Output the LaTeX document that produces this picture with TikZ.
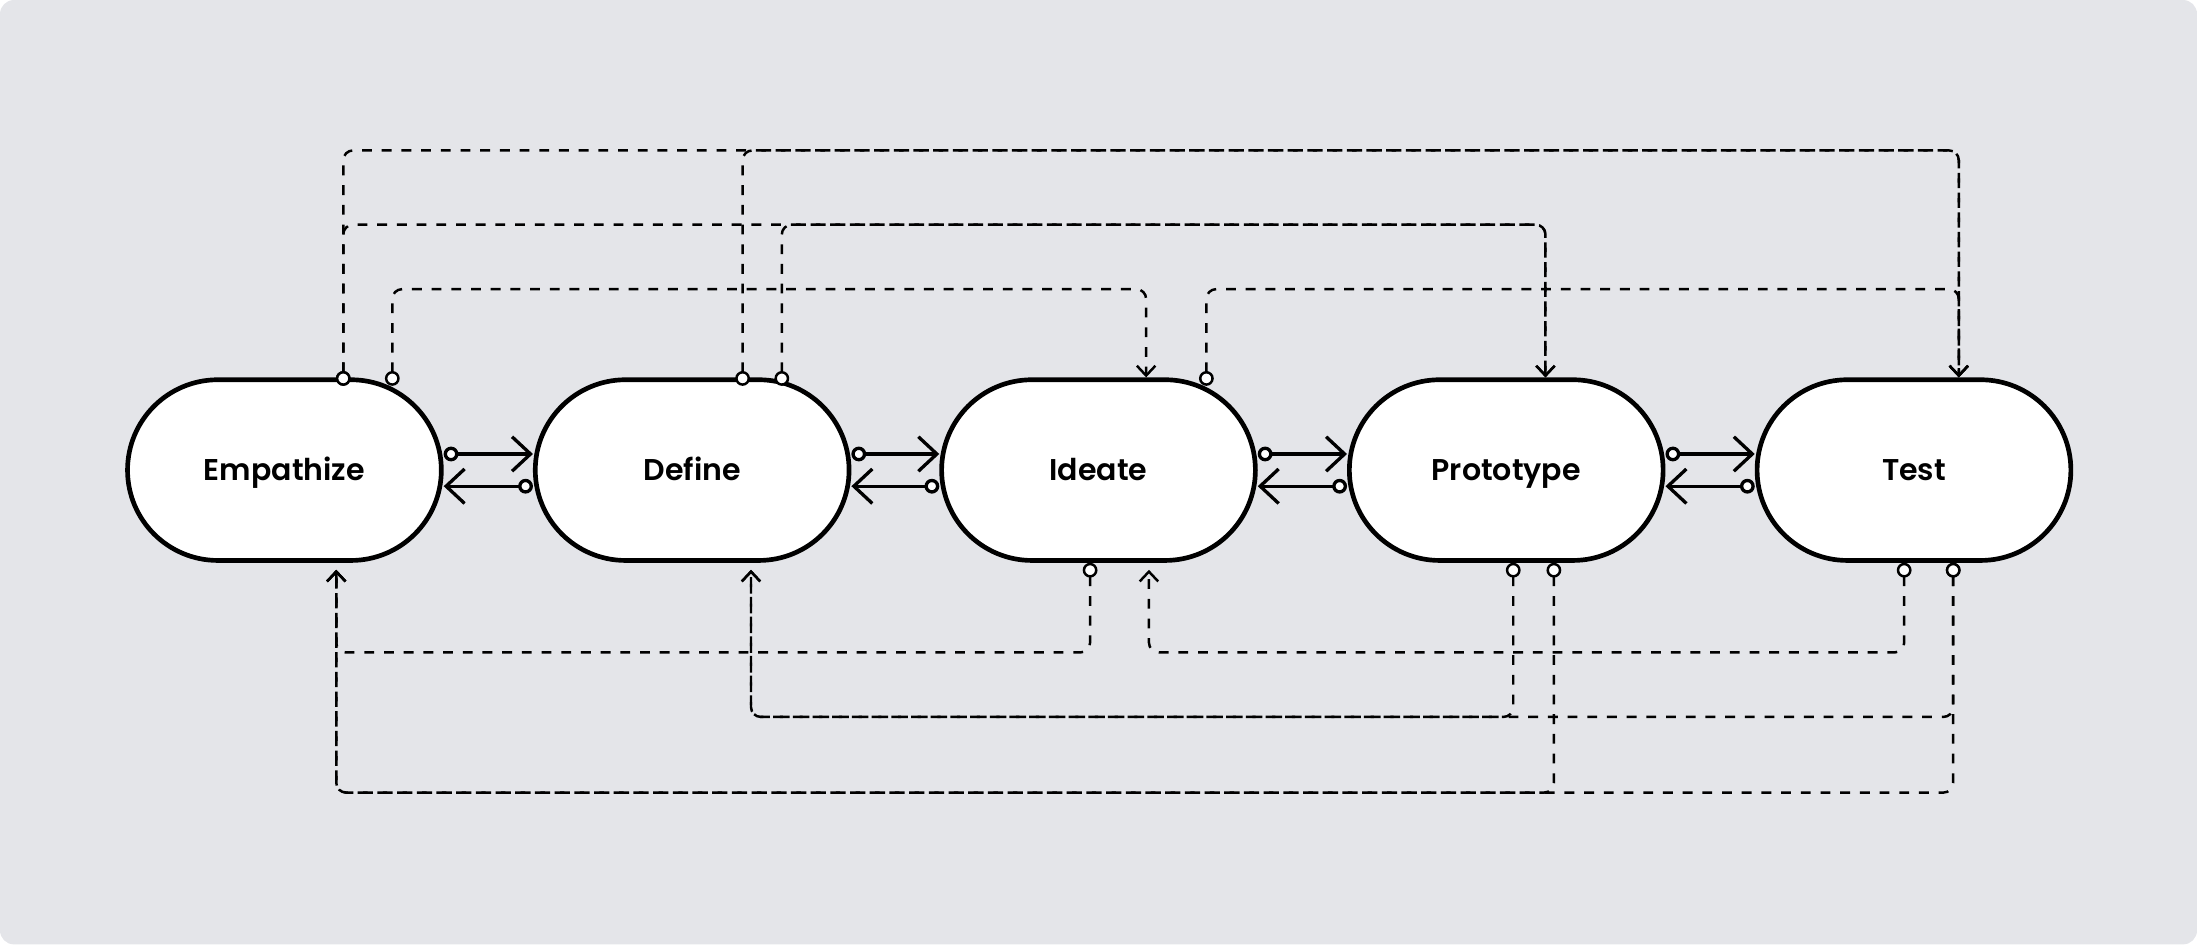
\documentclass[tikz,border=0pt]{standalone}
\usepackage{fontspec}
\usepackage{tikz}
\usetikzlibrary{arrows.meta}
\usetikzlibrary{positioning}
\newfontfamily\stagefont{Poppins SemiBold}
\definecolor{cloud}{RGB}{228, 229, 233}
\definecolor{ink}{RGB}{0, 0, 0}

\begin{document}
\begin{tikzpicture}[x=0.02cm, y=-0.02cm,
    stage/.style={draw=ink, fill=white, line width=1.9pt, rounded corners=1.29cm,
                  minimum width=4.48cm, minimum height=2.58cm, inner sep=0pt,
                  text height=8.6pt, text depth=0pt,
                  font=\stagefont\fontsize{12.2}{14}\selectfont},
    pass/.style={draw=ink, line width=1.35pt,
                 {Circle[fill=white, length=6pt]}-{Straight Barb[length=7.5pt, width=14pt]}},
    jump/.style={draw=ink, line width=1pt, dash pattern=on 4pt off 4pt, rounded corners=0.14cm,
                 {Circle[fill=white, length=6pt]}-{Straight Barb[length=4pt, width=7.5pt]}}]
            % Frame to fix the page:
            \useasboundingbox                                   (0, 0) rectangle (1568, 674);
            \fill[cloud, rounded corners=0.2cm]                 (0, 0) rectangle (1568, 674);
            % The five stages:
            \node[stage] (emp) at ( 203, 335.5) {Empathize};
            \node[stage] (def) at ( 494, 335.5) {Define};
            \node[stage] (ide) at ( 784, 335.5) {Ideate};
            \node[stage] (pro) at (1075, 335.5) {Prototype};
            \node[stage] (tst) at (1366, 335.5) {Test};
            % Jumps forward, above:
            \draw[jump] ([xshift=1.54cm, yshift=-0.12cm]emp.north) -- ++(0, -69)  -| ([xshift=0.68cm]ide.north);
            \draw[jump] ([xshift=0.84cm, yshift=-0.12cm]emp.north) -- ++(0, -115) -| ([xshift=0.56cm]pro.north);
            \draw[jump] ([xshift=0.84cm, yshift=-0.12cm]emp.north) -- ++(0, -168) -| ([xshift=0.64cm]tst.north);
            \draw[jump] ([xshift=1.28cm, yshift=-0.12cm]def.north) -- ++(0, -115) -| ([xshift=0.56cm]pro.north);
            \draw[jump] ([xshift=0.72cm, yshift=-0.12cm]def.north) -- ++(0, -168) -| ([xshift=0.64cm]tst.north);
            \draw[jump] ([xshift=1.54cm, yshift=-0.12cm]ide.north) -- ++(0, -69)  -| ([xshift=0.64cm]tst.north);
            % Jumps back, below:
            \draw[jump] ([xshift=-0.12cm]ide.south) -- ++(0, 64)  -| ([xshift=0.74cm, yshift=-0.1cm]emp.south);
            \draw[jump] ([xshift=-0.14cm]tst.south) -- ++(0, 64)  -| ([xshift=0.72cm, yshift=-0.1cm]ide.south);
            \draw[jump] ([xshift= 0.10cm]pro.south) -- ++(0, 110) -| ([xshift=0.84cm, yshift=-0.1cm]def.south);
            \draw[jump] ([xshift= 0.56cm]tst.south) -- ++(0, 110) -| ([xshift=0.84cm, yshift=-0.1cm]def.south);
            \draw[jump] ([xshift= 0.68cm]pro.south) -- ++(0, 164) -| ([xshift=0.74cm, yshift=-0.1cm]emp.south);
            \draw[jump] ([xshift= 0.56cm]tst.south) -- ++(0, 164) -| ([xshift=0.74cm, yshift=-0.1cm]emp.south);
            % Steps between neighbours:
            \draw[pass] ([yshift= 0.23cm]emp.east) -- ([yshift= 0.23cm]def.west);
            \draw[pass] ([yshift=-0.23cm]def.west) -- ([yshift=-0.23cm]emp.east);
            \draw[pass] ([yshift= 0.23cm]def.east) -- ([yshift= 0.23cm]ide.west);
            \draw[pass] ([yshift=-0.23cm]ide.west) -- ([yshift=-0.23cm]def.east);
            \draw[pass] ([yshift= 0.23cm]ide.east) -- ([yshift= 0.23cm]pro.west);
            \draw[pass] ([yshift=-0.23cm]pro.west) -- ([yshift=-0.23cm]ide.east);
            \draw[pass] ([yshift= 0.23cm]pro.east) -- ([yshift= 0.23cm]tst.west);
            \draw[pass] ([yshift=-0.23cm]tst.west) -- ([yshift=-0.23cm]pro.east);
\end{tikzpicture}
\end{document}
